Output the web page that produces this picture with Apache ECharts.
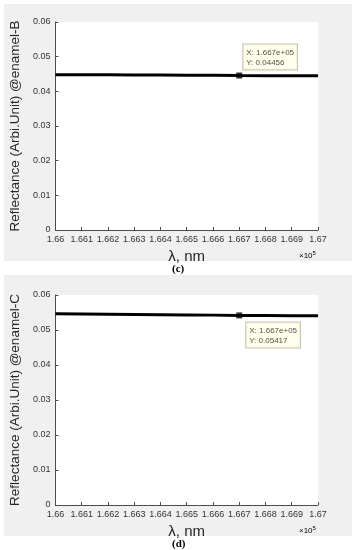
<!DOCTYPE html>
<html>
<head>
<meta charset="utf-8">
<script src="https://cdn.jsdelivr.net/npm/echarts@6/dist/echarts.min.js"></script>
<style>html,body{margin:0;padding:0;background:#fff;}#c{width:353px;height:550px;}</style>
</head>
<body>
<div id="c"></div>
<script>
var wavelengths = [166000, 166100, 166200, 166300, 166400, 166500, 166600, 166700, 166800, 166900, 167000];
var enamelB = [0.04480, 0.04478, 0.04475, 0.04472, 0.04469, 0.04466, 0.04462, 0.04456, 0.04453, 0.04450, 0.04447];
var enamelC = [0.05465, 0.05460, 0.05453, 0.05446, 0.05439, 0.05432, 0.05425, 0.05417, 0.05413, 0.05409, 0.05405];
var cursorB = [166700, 0.04456];
var cursorC = [166700, 0.05417];
var yTicks = [0, 0.01, 0.02, 0.03, 0.04, 0.05, 0.06];
var panelLabels = ['(c)', '(d)'];
var yNames = ['Reflectance (Arbi.Unit) @enamel-B', 'Reflectance (Arbi.Unit) @enamel-C'];

var chart = echarts.init(document.getElementById('c'));
var FONT = 'Liberation Sans, Arial, sans-serif';
var axisColor = '#4d4d4d';

function xAxisCfg(gi) {
  return {
    type: 'value', gridIndex: gi, min: 166000, max: 167000, interval: 100,
    name: '{l|λ, nm}', nameLocation: 'middle', nameGap: 19,
    nameTextStyle: { rich: { l: { fontFamily: FONT, fontSize: 15, color: '#262626' } } },
    axisLine: { show: true, lineStyle: { color: axisColor, width: 1 } },
    axisTick: { show: true, inside: true, length: 3, lineStyle: { color: axisColor } },
    axisLabel: { fontFamily: FONT, fontSize: 9, color: '#333', margin: 5,
      formatter: function (v) { return String(parseFloat((v / 1e5).toFixed(3))); } },
    splitLine: { show: false }
  };
}
function yAxisCfg(gi) {
  return {
    type: 'value', gridIndex: gi, min: 0, max: 0.06, interval: 0.01,
    name: yNames[gi], nameLocation: 'middle', nameGap: 22,
    nameTextStyle: { fontFamily: FONT, fontSize: 13.5, color: '#262626' },
    axisLine: { show: true, lineStyle: { color: axisColor, width: 1 } },
    axisTick: { show: true, inside: true, length: 3, lineStyle: { color: axisColor } },
    axisLabel: { fontFamily: FONT, fontSize: 9, color: '#333', margin: 5,
      formatter: function (v) { return yTicks.indexOf(+v.toFixed(2)) >= 0 ? String(+v.toFixed(2)) : ''; } },
    splitLine: { show: false }
  };
}
function lineSeries(gi, vals) {
  return {
    type: 'line', xAxisIndex: gi, yAxisIndex: gi, showSymbol: false, silent: true,
    data: wavelengths.map(function (x, i) { return [x, vals[i]]; }),
    lineStyle: { color: '#000', width: 3 }, z: 3
  };
}
function cursorSeries(gi, pt, below) {
  return {
    type: 'scatter', xAxisIndex: gi, yAxisIndex: gi, symbol: 'rect', symbolSize: 6,
    itemStyle: { color: '#000' }, z: 5,
    data: [pt],
    label: {
      show: true,
      position: below ? [10, 10] : [7, -3],
      align: 'left', verticalAlign: below ? 'top' : 'bottom',
      formatter: function (p) {
        return 'X: ' + (p.value[0]).toExponential(3).replace('e+', 'e+0') + '\nY: ' + p.value[1];
      },
      fontFamily: FONT, fontSize: 8, color: '#222', lineHeight: 10,
      backgroundColor: '#ffffe6', borderColor: '#b5b5a0', borderWidth: 1, padding: [3, 3, 2, 3]
    }
  };
}

var option = {
  backgroundColor: '#fff',
  animation: false,
  graphic: [
    { type: 'rect', shape: { x: 4, y: 4, width: 348, height: 257 }, style: { fill: '#f0f0f0' }, z: -10 },
    { type: 'rect', shape: { x: 4, y: 275, width: 348, height: 261 }, style: { fill: '#f0f0f0' }, z: -10 },
    { type: 'text', left: 299, top: 250, style: { text: '{a|×10}{b|5}', rich: { a: { fontSize: 8, fontFamily: FONT, color: '#333' }, b: { fontSize: 6, fontFamily: FONT, color: '#333', verticalAlign: 'top', padding: [0, 0, 6, 0] } } } },
    { type: 'text', left: 299, top: 525, style: { text: '{a|×10}{b|5}', rich: { a: { fontSize: 8, fontFamily: FONT, color: '#333' }, b: { fontSize: 6, fontFamily: FONT, color: '#333', verticalAlign: 'top', padding: [0, 0, 6, 0] } } } },
    { type: 'text', left: 172, top: 264, style: { text: panelLabels[0], font: 'bold 11px "Liberation Serif", serif', fill: '#000' } },
    { type: 'text', left: 172, top: 539, style: { text: panelLabels[1], font: 'bold 11px "Liberation Serif", serif', fill: '#000' } }
  ],
  grid: [
    { left: 49, top: 22, width: 269, height: 208, show: true, backgroundColor: '#fff', borderWidth: 0 },
    { left: 48, top: 295, width: 270, height: 210, show: true, backgroundColor: '#fff', borderWidth: 0 }
  ],
  xAxis: [xAxisCfg(0), xAxisCfg(1)],
  yAxis: [yAxisCfg(0), yAxisCfg(1)],
  series: [
    lineSeries(0, enamelB), cursorSeries(0, cursorB, false),
    lineSeries(1, enamelC), cursorSeries(1, cursorC, true)
  ]
};
chart.setOption(option);
</script>
</body>
</html>
